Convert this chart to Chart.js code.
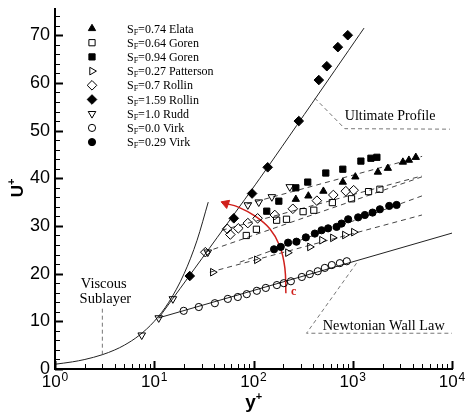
<!DOCTYPE html>
<html>
<head>
<meta charset="utf-8">
<script src="https://cdn.jsdelivr.net/npm/chart.js"></script>
<style>
  html, body { margin: 0; padding: 0; background: #fff; }
  #wrap { width: 465px; height: 416px; }
</style>
</head>
<body>
<div id="wrap"><canvas id="chart"></canvas></div>
<script>
// values: [y+, U+]
const elata074 = [[267, 35.6], [357, 36.3], [506, 37.3], [794, 39.2], [1062, 40.3], [1791, 41.3], [2259, 42.1], [3200, 43.4], [3680, 43.8], [4320, 44.4]];
const goren064 = [[84.6, 28.0], [107, 29.3], [171, 31.2], [215, 31.4], [316, 33.0], [405, 33.3], [623, 34.9], [972, 35.7], [1443, 37.2], [1877, 37.7]];
const goren094 = [[136, 33.1], [180, 35.2], [267, 38.0], [352, 39.2], [535, 41.1], [794, 41.9], [1208, 43.6], [1524, 44.2], [1751, 44.4]];
const patterson027 = [[38.9, 20.3], [108, 22.9], [222, 24.4], [370, 25.6], [489, 27.0], [630, 27.5], [832, 28.1], [1025, 28.7]];
const rollin07 = [[32.7, 24.5], [54.4, 29.4], [58.4, 28.2], [70.3, 29.5], [87.7, 30.6], [110, 31.6], [164, 32.3], [249, 33.6], [435, 35.3], [637, 36.5], [851, 37.3], [1021, 37.5]];
const rollin159 = [[22.8, 19.5], [63.3, 31.6], [96.8, 36.8], [139, 42.3], [286, 52.0], [455, 60.6], [548, 63.5], [708, 67.5], [891, 70.0]];
const rudd10 = [[7.48, 7.1], [11.1, 10.7], [15.4, 14.7], [34.6, 24.5], [87.7, 34.4], [113, 35.0], [153, 36.1], [232, 38.2]];
const virk00 = [[19.8, 12.2], [28.1, 13.0], [40.8, 13.8], [55.1, 14.7], [69.5, 15.1], [85.5, 15.7], [108, 16.4], [133, 17.0], [172, 17.6], [202, 18.0], [238, 18.4], [307, 19.3], [369, 19.9], [444, 20.5], [523, 21.2], [615, 21.8], [741, 22.2], [871, 22.6]];
const virk029 = [[161, 25.1], [188, 25.6], [223, 26.5], [271, 26.7], [337, 27.6], [415, 28.4], [485, 29.1], [565, 29.5], [687, 29.8], [771, 30.5], [899, 31.4], [1133, 31.8], [1324, 32.3], [1583, 32.8], [1877, 33.5], [2330, 34.2], [2766, 34.4]];

// reference curves
const viscousSublayer = [[1, 1], [1.5, 1.5], [2, 2], [3, 3], [4, 4], [5, 5], [7, 7], [10, 10], [14, 14], [20, 20], [27, 27], [35, 35]];
const newtonianLaw = [[11, 10.7], [10000, 28.5]];
const ultimateProfile = [[11.1, 10.7], [116, 40], [1300, 71.5]];

// dashed fits
const fitRudd = [[85.6, 34.6], [5000, 44.6]];
const fitRollin = [[47.9, 29.1], [4980, 40.5]];
const fitGoren = [[32.4, 24.5], [4980, 40.3]];
const fitVirk = [[72.8, 22.4], [4980, 36.3]];
const fitPatterson = [[36.3, 20.3], [4980, 32.3]];

// leader lines and the red "c" arc
const leaderViscous = [[3, 3], [3, 13.2]];
const leaderUltimate = [[415, 56.8], [832, 50.4], [9530, 50.3]];
const leaderNewtonian = [[1092, 22.2], [342, 7.5], [10000, 7.5]];
const arcC = [[212, 15.9], [207, 21.2], [184, 25.8], [146, 29.4], [103, 32.1], [69.5, 34.0], [52.6, 34.7]];
const arcHead = [[52.6, 34.7]];

const xTicks = [1, 10, 100, 1000, 10000];
const xTickExp = ['0', '1', '2', '3', '4'];
const yTicks = [0, 10, 20, 30, 40, 50, 60, 70];

const legendLabels = ['=0.74 Elata', '=0.64 Goren', '=0.94 Goren', '=0.27 Patterson', '=0.7 Rollin', '=1.59 Rollin', '=1.0 Rudd', '=0.0 Virk', '=0.29 Virk'];

// marker looks, same order as legend
const markerStyles = [
  { style: 'triangle', rot: 0, fill: true, r: 4.2 },
  { style: 'rect', rot: 0, fill: false, r: 4.4 },
  { style: 'rect', rot: 0, fill: true, r: 4.4 },
  { style: 'triangle', rot: 90, fill: false, r: 4.4 },
  { style: 'rectRot', rot: 0, fill: false, r: 4.8 },
  { style: 'rectRot', rot: 0, fill: true, r: 4.8 },
  { style: 'triangle', rot: 180, fill: false, r: 4.4 },
  { style: 'circle', rot: 0, fill: false, r: 3.6 },
  { style: 'circle', rot: 0, fill: true, r: 3.6 }
];
const markerData = [elata074, goren064, goren094, patterson027, rollin07, rollin159, rudd10, virk00, virk029];

const pts = arr => arr.map(p => ({ x: p[0], y: p[1] }));

function markerSet(data, m) {
  return {
    data: pts(data),
    showLine: false,
    pointStyle: m.style,
    pointRotation: m.rot,
    pointRadius: m.r,
    pointBorderWidth: 1,
    pointBorderColor: '#000',
    pointBackgroundColor: m.fill ? '#000' : 'rgba(0,0,0,0)'
  };
}

function lineSet(data, color, width, dash, tension) {
  return {
    data: pts(data),
    showLine: true,
    pointRadius: 0,
    borderColor: color,
    borderWidth: width,
    borderDash: dash,
    tension: tension || 0,
    fill: false
  };
}

const datasets = markerData.map((d, i) => markerSet(d, markerStyles[i]));
datasets.push({
  data: pts(arcHead), showLine: false, pointStyle: 'triangle', pointRotation: -70,
  pointRadius: 5, pointBorderWidth: 1, pointBorderColor: '#d0201c', pointBackgroundColor: '#d0201c'
});
datasets.push(lineSet(arcC, '#d0201c', 1.5, [], 0.4));
datasets.push(Object.assign(lineSet(viscousSublayer, '#222', 1, []), { cubicInterpolationMode: 'monotone' }));
datasets.push(lineSet(newtonianLaw, '#222', 1, []));
datasets.push(lineSet(ultimateProfile, '#222', 1, [], 0.2));
[fitRudd, fitRollin, fitGoren, fitVirk, fitPatterson].forEach(f => datasets.push(lineSet(f, '#444', 1, [5, 4])));
[leaderViscous, leaderUltimate, leaderNewtonian].forEach(f => datasets.push(lineSet(f, '#777', 1, [4, 3])));

function mark(ctx, m, x, y) {
  ctx.save();
  ctx.fillStyle = m.fill ? '#000' : 'rgba(0,0,0,0)';
  ctx.strokeStyle = '#000';
  ctx.lineWidth = 1;
  Chart.helpers.drawPoint(ctx, { pointStyle: m.style, radius: m.r, rotation: m.rot, borderWidth: 1 }, x, y);
  ctx.restore();
}

const decor = {
  id: 'decor',
  afterDraw(chart) {
    const ctx = chart.ctx;
    const xs = chart.scales.x, ys = chart.scales.y;
    const area = chart.chartArea;
    ctx.save();
    ctx.strokeStyle = '#000';

    // inward ticks
    xTicks.forEach((v, i) => {
      const px = Math.round(xs.getPixelForValue(v)) + 0.5;
      ctx.lineWidth = 2;
      ctx.beginPath(); ctx.moveTo(px, area.bottom); ctx.lineTo(px, area.bottom - 8); ctx.stroke();
      if (i < xTicks.length - 1) {
        ctx.lineWidth = 1;
        for (let k = 2; k < 10; k++) {
          const mx = Math.round(xs.getPixelForValue(v * k)) + 0.5;
          ctx.beginPath(); ctx.moveTo(mx, area.bottom); ctx.lineTo(mx, area.bottom - 5); ctx.stroke();
        }
      }
    });
    for (let v = 0; v <= 74; v += 2) {
      const py = Math.round(ys.getPixelForValue(v)) + 0.5;
      const major = v % 10 === 0;
      ctx.lineWidth = major ? 2 : 1;
      ctx.beginPath(); ctx.moveTo(area.left, py); ctx.lineTo(area.left + (major ? 8 : 5), py); ctx.stroke();
    }

    // x tick labels 10^n
    ctx.fillStyle = '#000';
    ctx.textBaseline = 'alphabetic';
    ctx.textAlign = 'left';
    xTicks.forEach((v, i) => {
      const px = xs.getPixelForValue(v);
      ctx.font = '17px "Liberation Sans", Arial, sans-serif';
      const w1 = ctx.measureText('10').width;
      ctx.font = '12px "Liberation Sans", Arial, sans-serif';
      const w2 = ctx.measureText(xTickExp[i]).width;
      const x0 = px - (w1 + w2 + 1) / 2;
      ctx.font = '17px "Liberation Sans", Arial, sans-serif';
      ctx.fillText('10', x0, area.bottom + 18);
      ctx.font = '12px "Liberation Sans", Arial, sans-serif';
      ctx.fillText(xTickExp[i], x0 + w1 + 1, area.bottom + 12);
    });

    // axis titles
    ctx.font = 'bold 19px "Liberation Sans", Arial, sans-serif';
    const wy = ctx.measureText('y').width;
    const cx = (area.left + area.right) / 2 - 3;
    ctx.fillText('y', cx - wy / 2, area.bottom + 39);
    ctx.font = 'bold 11px "Liberation Sans", Arial, sans-serif';
    ctx.fillText('+', cx + wy / 2, area.bottom + 31);

    ctx.save();
    ctx.translate(23, ys.getPixelForValue(36));
    ctx.rotate(-Math.PI / 2);
    ctx.font = 'bold 17px "Liberation Sans", Arial, sans-serif';
    const wu = ctx.measureText('U').width;
    ctx.fillText('U', 0, 0);
    ctx.font = 'bold 11px "Liberation Sans", Arial, sans-serif';
    ctx.fillText('+', wu, -8);
    ctx.restore();

    // legend
    legendLabels.forEach((lab, i) => {
      const y = area.top + 19.5 + i * 14.2;
      mark(ctx, markerStyles[i], area.left + 37, y);
      let x = area.left + 72;
      ctx.font = '12px "Liberation Serif", "Times New Roman", serif';
      ctx.fillText('S', x, y + 4);
      x += ctx.measureText('S').width;
      ctx.font = '8px "Liberation Serif", "Times New Roman", serif';
      ctx.fillText('F', x, y + 6);
      x += ctx.measureText('F').width;
      ctx.font = '12px "Liberation Serif", "Times New Roman", serif';
      ctx.fillText(lab, x, y + 4);
    });

    // annotations
    ctx.font = '14.5px "Liberation Serif", "Times New Roman", serif';
    ctx.fillText('Viscous', xs.getPixelForValue(1.82), ys.getPixelForValue(17.0));
    ctx.fillText('Sublayer', xs.getPixelForValue(1.77), ys.getPixelForValue(13.8));
    ctx.font = '14px "Liberation Serif", "Times New Roman", serif';
    ctx.fillText('Ultimate Profile', xs.getPixelForValue(832), ys.getPixelForValue(52.2));
    ctx.font = '14.3px "Liberation Serif", "Times New Roman", serif';
    ctx.fillText('Newtonian Wall Law', xs.getPixelForValue(499), ys.getPixelForValue(8.2));
    ctx.fillStyle = '#d0201c';
    ctx.font = 'bold 12px "Liberation Serif", "Times New Roman", serif';
    ctx.fillText('c', xs.getPixelForValue(238), ys.getPixelForValue(15.5));
    ctx.restore();
  }
};

new Chart(document.getElementById('chart'), {
  type: 'scatter',
  data: { datasets: datasets },
  options: {
    responsive: true,
    maintainAspectRatio: false,
    animation: false,
    events: [],
    layout: { padding: { top: 9, right: 13, left: 0, bottom: 0 } },
    plugins: { legend: { display: false }, tooltip: { enabled: false } },
    scales: {
      x: {
        type: 'logarithmic',
        min: 1,
        max: 10000,
        grid: { display: false, drawTicks: false },
        border: { display: true, color: '#000', width: 2 },
        ticks: { display: false },
        afterFit(s) { s.height = 47; s.paddingLeft = 0; s.paddingRight = 0; }
      },
      y: {
        min: 0,
        max: 75.5,
        grid: { display: false, drawTicks: false },
        border: { display: true, color: '#000', width: 2 },
        ticks: {
          stepSize: 10,
          includeBounds: false,
          padding: 5,
          color: '#000',
          font: { family: '"Liberation Sans", Arial, sans-serif', size: 18 },
          callback: v => (yTicks.includes(v) ? String(v) : '')
        },
        afterFit(s) { s.width = 55; s.paddingTop = 0; s.paddingBottom = 0; }
      }
    }
  },
  plugins: [decor]
});
</script>
</body>
</html>
